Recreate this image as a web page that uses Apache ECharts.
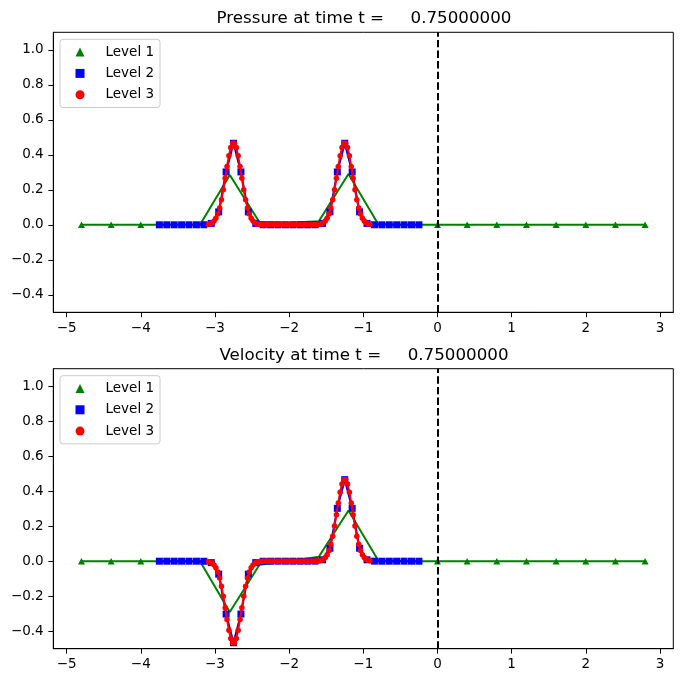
<!DOCTYPE html>
<html><head><meta charset="utf-8">
<script src="https://cdn.jsdelivr.net/npm/echarts@6/dist/echarts.min.js"></script>
<style>html,body{margin:0;padding:0;background:#fff}#c{width:683px;height:682px}</style>
</head><body><div id="c"></div>
<script>
const titles = ['Pressure at time t =     0.75000000', 'Velocity at time t =     0.75000000'];
const levelNames = ['Level 1', 'Level 2', 'Level 3'];
const xTicks = [-5, -4, -3, -2, -1, 0, 1, 2, 3];
const yTicks = [-0.4, -0.2, 0.0, 0.2, 0.4, 0.6, 0.8, 1.0];

const level1X = [-4.8, -4.4, -4.0, -3.6, -3.2, -2.8, -2.4, -2.0, -1.6, -1.2, -0.8, -0.4, 0.0, 0.4, 0.8, 1.2, 1.6, 2.0, 2.4, 2.8];
const level1P = [0, 0, 0, 0, 0.002, 0.285, 0.015, 0.012, 0.02, 0.29, 0.005, 0, 0, 0, 0, 0, 0, 0, 0, 0];
const level1U = [0, 0, 0, 0, -0.002, -0.29, -0.02, 0.0, 0.025, 0.29, 0.005, 0, 0, 0, 0, 0, 0, 0, 0, 0];

const level2X = [-3.75, -3.65, -3.55, -3.45, -3.35, -3.25, -3.15, -3.05, -2.95, -2.85,
  -2.75, -2.65, -2.55, -2.45, -2.35, -2.25, -2.15, -2.05, -1.95, -1.85,
  -1.75, -1.65, -1.55, -1.45, -1.35, -1.25, -1.15, -1.05, -0.95, -0.85,
  -0.75, -0.65, -0.55, -0.45, -0.35, -0.25];
const level2P = [0, 0, 0, 0, 0, 0, 0.0003, 0.008, 0.074, 0.302,
  0.466, 0.302, 0.074, 0.008, 0.0003, 0, 0, 0, 0, 0,
  0, 0.0003, 0.008, 0.074, 0.302, 0.466, 0.302, 0.074, 0.008, 0.0003,
  0, 0, 0, 0, 0, 0];
const level2U = [0, 0, 0, 0, 0, 0, -0.0003, -0.008, -0.074, -0.302,
  -0.466, -0.302, -0.074, -0.008, -0.0003, 0, 0, 0, 0, 0,
  0, 0.0003, 0.008, 0.074, 0.302, 0.466, 0.302, 0.074, 0.008, 0.0003,
  0, 0, 0, 0, 0, 0];

const level3X = [-3.0875, -3.0625, -3.0375, -3.0125, -2.9875, -2.9625, -2.9375, -2.9125, -2.8875, -2.8625,
  -2.8375, -2.8125, -2.7875, -2.7625, -2.7375, -2.7125, -2.6875, -2.6625, -2.6375, -2.6125,
  -2.5875, -2.5625, -2.5375, -2.5125, -2.4875, -2.4625, -2.4375, -2.4125, -2.3875, -2.3625,
  -2.3375, -2.3125, -2.2875, -2.2625, -2.2375, -2.2125, -2.1875, -2.1625, -2.1375, -2.1125,
  -2.0875, -2.0625, -2.0375, -2.0125, -1.9875, -1.9625, -1.9375, -1.9125, -1.8875, -1.8625,
  -1.8375, -1.8125, -1.7875, -1.7625, -1.7375, -1.7125, -1.6875, -1.6625, -1.6375, -1.6125,
  -1.5875, -1.5625, -1.5375, -1.5125, -1.4875, -1.4625, -1.4375, -1.4125, -1.3875, -1.3625,
  -1.3375, -1.3125, -1.2875, -1.2625, -1.2375, -1.2125, -1.1875, -1.1625, -1.1375, -1.1125,
  -1.0875, -1.0625, -1.0375, -1.0125, -0.9875, -0.9625, -0.9375, -0.9125];
const level3P = [0.0028, 0.0058, 0.0114, 0.0212, 0.0371, 0.0616, 0.0966, 0.1432, 0.2007, 0.2659,
  0.3330, 0.3942, 0.4412, 0.4667, 0.4667, 0.4412, 0.3942, 0.3330, 0.2659, 0.2007,
  0.1432, 0.0966, 0.0616, 0.0371, 0.0212, 0.0114, 0.0058, 0.0028, 0.0013, 0.0005,
  0.0002, 0, 0, 0, 0, 0, 0, 0, 0, 0,
  0, 0, 0, 0, 0, 0, 0, 0, 0, 0,
  0, 0, 0, 0, 0, 0, 0, 0.0002, 0.0005, 0.0013,
  0.0028, 0.0058, 0.0114, 0.0212, 0.0371, 0.0616, 0.0966, 0.1432, 0.2007, 0.2659,
  0.3330, 0.3942, 0.4412, 0.4667, 0.4667, 0.4412, 0.3942, 0.3330, 0.2659, 0.2007,
  0.1432, 0.0966, 0.0616, 0.0371, 0.0212, 0.0114, 0.0058, 0.0028];
const level3U = [-0.0028, -0.0058, -0.0114, -0.0212, -0.0371, -0.0616, -0.0966, -0.1432, -0.2007, -0.2659,
  -0.3330, -0.3942, -0.4412, -0.4667, -0.4667, -0.4412, -0.3942, -0.3330, -0.2659, -0.2007,
  -0.1432, -0.0966, -0.0616, -0.0371, -0.0212, -0.0114, -0.0058, -0.0028, -0.0013, -0.0005,
  -0.0002, 0, 0, 0, 0, 0, 0, 0, 0, 0,
  0, 0, 0, 0, 0, 0, 0, 0, 0, 0,
  0, 0, 0, 0, 0, 0, 0, 0.0002, 0.0005, 0.0013,
  0.0028, 0.0058, 0.0114, 0.0212, 0.0371, 0.0616, 0.0966, 0.1432, 0.2007, 0.2659,
  0.3330, 0.3942, 0.4412, 0.4667, 0.4667, 0.4412, 0.3942, 0.3330, 0.2659, 0.2007,
  0.1432, 0.0966, 0.0616, 0.0371, 0.0212, 0.0114, 0.0058, 0.0028];

const FONT = 'DejaVu Sans';
const COLORS = ['#008000', '#0000ff', '#ff0000'];
const gridTops = [32.3, 368.7];
const minus = s => s.replace('-', '\u2212');

const l2min = level2X[0] - 0.05, l2max = level2X[level2X.length - 1] + 0.05;
const covered = x => x > l2min && x < l2max;

function axisCommon() {
  return {
    axisLine: { show: true, onZero: false, lineStyle: { color: '#000', width: 1 } },
    axisTick: { show: true, inside: false, length: 4.9, lineStyle: { color: '#000', width: 1 } },
    splitLine: { show: false },
  };
}

const grids = [], xAxes = [], yAxes = [], series = [], legends = [], titleOpts = [];
const sets = [[level1P, level2P, level3P], [level1U, level2U, level3U]];

for (let g = 0; g < 2; g++) {
  grids.push({ left: 53.3, top: gridTops[g], width: 620, height: 280, show: true, borderColor: '#000', borderWidth: 1, containLabel: false });
  xAxes.push(Object.assign(axisCommon(), {
    type: 'value', gridIndex: g, min: -5.18, max: 3.18, minInterval: 1, maxInterval: 1,
    axisLabel: { customValues: xTicks, margin: 9, color: '#000', fontSize: 13.5, fontFamily: FONT, formatter: v => minus(String(Math.round(v))) }
  }));
  xAxes[g].axisTick.customValues = xTicks;
  yAxes.push(Object.assign(axisCommon(), {
    type: 'value', gridIndex: g, min: -0.5, max: 1.1, minInterval: 0.2, maxInterval: 0.2,
    axisLabel: { customValues: yTicks, margin: 9.6, color: '#000', fontSize: 13.5, fontFamily: FONT, formatter: v => minus((Math.round(v * 10) / 10).toFixed(1)) }
  }));
  yAxes[g].axisTick.customValues = yTicks;

  const [v1, v2, v3] = sets[g];
  series.push({
    type: 'line', name: levelNames[0], xAxisIndex: g, yAxisIndex: g,
    data: level1X.map((x, i) => ({ value: [x, v1[i]], symbol: covered(x) ? 'none' : 'triangle' })),
    symbol: 'triangle', symbolSize: [7, 6.5],
    lineStyle: { color: COLORS[0], width: 2 }, itemStyle: { color: COLORS[0], borderWidth: 0 },
    animation: false, z: 2
  });
  series.push({
    type: 'line', name: levelNames[1], xAxisIndex: g, yAxisIndex: g,
    data: level2X.map((x, i) => [x, v2[i]]),
    symbol: 'rect', symbolSize: 7,
    lineStyle: { color: COLORS[1], width: 2 }, itemStyle: { color: COLORS[1], borderWidth: 0 },
    animation: false, z: 3
  });
  series.push({
    type: 'line', name: levelNames[2], xAxisIndex: g, yAxisIndex: g,
    data: level3X.map((x, i) => [x, v3[i]]),
    symbol: 'circle', symbolSize: 5.5,
    lineStyle: { color: COLORS[2], width: 2 }, itemStyle: { color: COLORS[2], borderWidth: 0 },
    animation: false, z: 4,
    markLine: {
      silent: true, animation: false, symbol: ['none', 'none'], label: { show: false },
      lineStyle: { color: '#000', type: [7.4, 3.2], width: 2 },
      emphasis: { disabled: true },
      data: [{ xAxis: 0 }]
    }
  });
  legends.push({
    orient: 'vertical', left: 60, top: gridTops[g] + 7,
    data: levelNames.map((n, j) => ({ name: n, icon: ['triangle', 'rect', 'circle'][j] })),
    itemWidth: 9, itemHeight: 9, itemGap: 7.3,
    padding: [5.8, 6, 5.8, 15.5],
    borderColor: '#cccccc', borderWidth: 1, borderRadius: 3, backgroundColor: 'rgba(255,255,255,0.8)',
    textStyle: { fontSize: 13.5, color: '#000', fontFamily: FONT, padding: [0, 0, 0, 16] },
    selectedMode: false
  });
  titleOpts.push({
    text: titles[g], left: 364, top: gridTops[g] - 22, textAlign: 'center', padding: 0,
    textStyle: { fontSize: 16.7, fontWeight: 'normal', color: '#000', fontFamily: FONT }
  });
}

const chart = echarts.init(document.getElementById('c'), null, { renderer: 'canvas' });
chart.setOption({
  animation: false,
  backgroundColor: '#fff',
  textStyle: { fontFamily: FONT },
  title: titleOpts,
  legend: legends,
  grid: grids,
  xAxis: xAxes,
  yAxis: yAxes,
  series: series
});
</script>
</body></html>
